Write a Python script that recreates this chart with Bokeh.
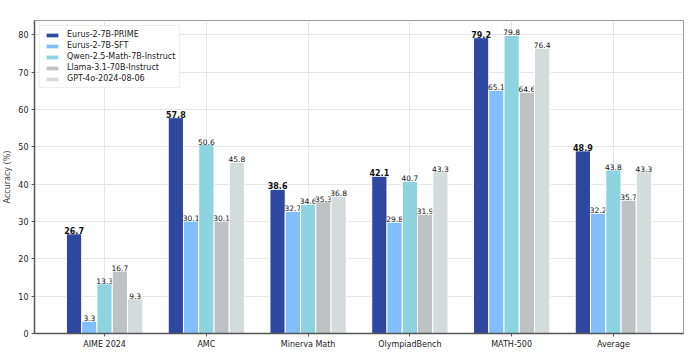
from bokeh.plotting import figure
from bokeh.models import FactorRange, ColumnDataSource, Legend, LegendItem, SingleIntervalTicker
from bokeh.transform import dodge
from bokeh.core.properties import value
from bokeh.embed import file_html
from bokeh.resources import INLINE

categories = ["AIME 2024", "AMC", "Minerva Math", "OlympiadBench", "MATH-500", "Average"]
models = ["Eurus-2-7B-PRIME", "Eurus-2-7B-SFT", "Qwen-2.5-Math-7B-Instruct",
          "Llama-3.1-70B-Instruct", "GPT-4o-2024-08-06"]
prime = [26.7, 57.8, 38.6, 42.1, 79.2, 48.9]
sft = [3.3, 30.1, 32.7, 29.8, 65.1, 32.2]
qwen = [13.3, 50.6, 34.6, 40.7, 79.8, 43.8]
llama = [16.7, 30.1, 35.3, 31.9, 64.6, 35.7]
gpt4o = [9.3, 45.8, 36.8, 43.3, 76.4, 43.3]
series = [prime, sft, qwen, llama, gpt4o]
colors = ["#2E48A0", "#82BFFA", "#8ED3E0", "#BEC2C4", "#D4DBDB"]

FONT = "DejaVu Sans"
p = figure(width=696, height=356, x_range=FactorRange(*categories, range_padding=0.063,
           range_padding_units="percent"), y_range=(0, 83.8),
           output_backend="svg", toolbar_location=None,
           min_border_left=0, min_border_right=13, min_border_top=20, min_border_bottom=23)
p.background_fill_color = "white"
p.border_fill_color = "white"
p.outline_line_color = "#999999"
p.outline_line_width = 1

width = 0.15
offsets = [-0.30, -0.15, 0.0, 0.15, 0.30]
items = []
for i, (name, vals, col) in enumerate(zip(models, series, colors)):
    src = ColumnDataSource(dict(cat=categories, val=vals,
                                lab=[f"{v:.1f}" for v in vals]))
    r = p.vbar(x=dodge("cat", offsets[i], range=p.x_range), top="val", width=width,
               source=src, fill_color=col, line_color="white", line_width=1)
    items.append(LegendItem(label=name, renderers=[r]))
    p.text(x=dodge("cat", offsets[i], range=p.x_range), y="val", text="lab", source=src,
           text_align="center", text_baseline="bottom", y_offset=0,
           text_font=value(FONT), text_font_size="7.5px" if i else "8px",
           text_font_style="bold" if i == 0 else "normal", text_color="#111111")

legend = Legend(items=items, location="top_left")
legend.label_text_font = FONT
legend.label_text_font_size = "8px"
legend.label_text_color = "#222222"
legend.glyph_width = 16
legend.glyph_height = 6
legend.label_height = 9
legend.spacing = 2
legend.padding = 4
legend.margin = 5
legend.border_line_color = "#dddddd"
legend.label_standoff = 7
p.add_layout(legend)

p.yaxis.ticker = SingleIntervalTicker(interval=10)
p.yaxis.axis_label = "Accuracy (%)"
p.yaxis.axis_label_text_font = FONT
p.yaxis.axis_label_text_font_size = "8px"
p.yaxis.axis_label_text_font_style = "normal"
p.yaxis.axis_label_standoff = 3
p.yaxis.major_label_standoff = 2
p.xaxis.major_label_standoff = 3
for ax in (p.xaxis, p.yaxis):
    ax.major_label_text_font = FONT
    ax.major_label_text_font_size = "8px"
    ax.major_label_text_color = "#222222"
    ax.axis_line_color = "#555555"
    ax.axis_line_width = 1.5
    ax.major_tick_line_color = "#555555"
    ax.major_tick_out = 3
    ax.major_tick_in = 0
    ax.minor_tick_line_color = None
p.xaxis.group_text_font_size = "8px"
p.xgrid.grid_line_color = "#e6e6e6"
p.ygrid.grid_line_color = "#e6e6e6"
p.xgrid.level = "underlay"
p.ygrid.level = "underlay"

open("out.html", "w").write(file_html(p, INLINE))
